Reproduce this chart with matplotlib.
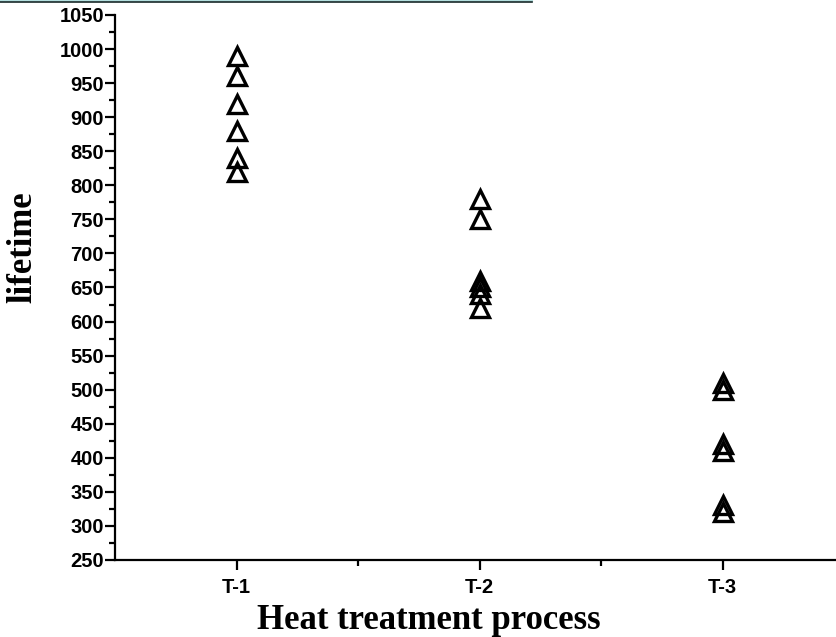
import matplotlib
matplotlib.use("Agg")
import matplotlib.pyplot as plt
from matplotlib.ticker import MultipleLocator, FixedLocator
from matplotlib.lines import Line2D

categories = ["T-1", "T-2", "T-3"]
t1_values = [990, 960, 920, 880, 840, 820]
t2_values = [780, 750, 660, 650, 640, 620]
t3_values = [510, 500, 420, 410, 330, 320]
series = [t1_values, t2_values, t3_values]

fig = plt.figure(figsize=(8.37, 6.37), dpi=100)
ax = fig.add_axes([0.1374, 0.1209, 0.8626, 0.8556])

for i, vals in enumerate(series):
    ax.plot([i + 1] * len(vals), vals, linestyle="none", marker="^",
            markersize=12.5, markerfacecolor="none", markeredgecolor="black",
            markeredgewidth=2.4, clip_on=False)

ax.set_xlim(0.5, 3.47)
ax.set_ylim(250, 1050)
ax.set_xticks([1, 2, 3])
ax.set_xticklabels(categories)
ax.xaxis.set_minor_locator(FixedLocator([1.5, 2.5]))
ax.yaxis.set_major_locator(MultipleLocator(50))
ax.yaxis.set_minor_locator(MultipleLocator(25))

for s in ["top", "right"]:
    ax.spines[s].set_visible(False)
for s in ["left", "bottom"]:
    ax.spines[s].set_linewidth(1.6)

ax.tick_params(axis="both", which="major", direction="out", length=7, width=1.6,
               labelsize=14.5, pad=1)
ax.tick_params(axis="both", which="minor", direction="out", length=4.5, width=1.6)
ax.tick_params(axis="x", which="major", pad=6)
for lab in ax.get_xticklabels() + ax.get_yticklabels():
    lab.set_fontfamily("Liberation Sans")
    lab.set_fontweight("bold")

ax.set_xlabel("Heat treatment process", fontfamily="Liberation Serif",
              fontweight="bold", fontsize=25, labelpad=8)
ax.set_ylabel("lifetime", fontfamily="Liberation Serif",
              fontweight="bold", fontsize=25, labelpad=4)
ax.xaxis.set_label_coords(0.435, -0.08)
ax.yaxis.set_label_coords(-0.105, 0.574)

# partial frame line at the top edge
fig.add_artist(Line2D([0, 0.636], [0.9985, 0.9985], transform=fig.transFigure,
                      color="#b5e0e0", linewidth=1.5))
fig.add_artist(Line2D([0, 0.636], [0.9965, 0.9965], transform=fig.transFigure,
                      color="#1a2a2a", linewidth=1.2))

fig.savefig("out.png", dpi=100)
